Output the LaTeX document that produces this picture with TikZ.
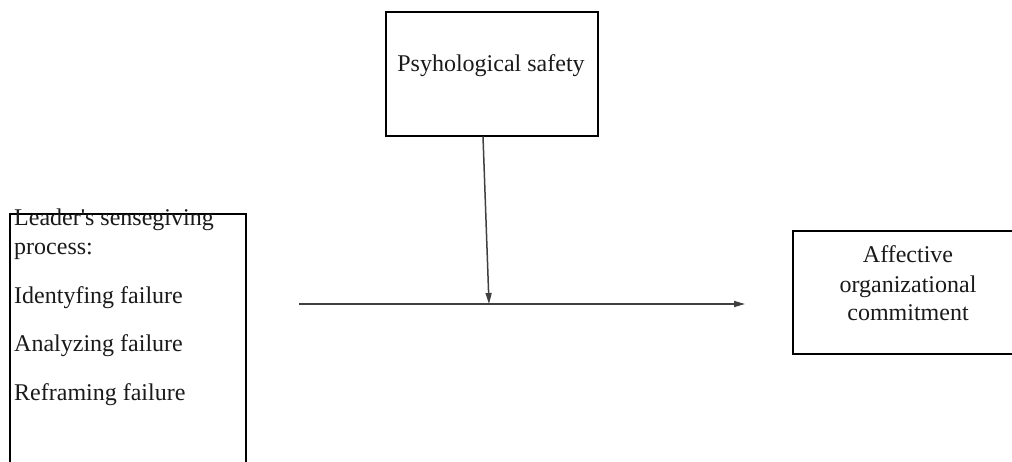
\documentclass[tikz,border=0pt]{standalone}
\usepackage{fontspec}
\setmainfont{Liberation Serif}
\usetikzlibrary{arrows.meta}
\definecolor{txt}{HTML}{1A1A1A}
\definecolor{linec}{HTML}{404040}
\tikzset{
  boxnode/.style={draw=black, line width=2pt, inner sep=0pt, outer sep=0pt, anchor=north west},
  lbl/.style={font=\fontsize{24}{29}\selectfont, text=txt, inner sep=0pt},
  arr/.style={draw=linec, line width=1.5pt, -{Triangle[length=11pt,width=6pt]}}
}
\begin{document}
\begin{tikzpicture}[x=1pt,y=-1pt]
\useasboundingbox (0,0) rectangle (1012,462);
\clip (0,0) rectangle (1012,462);
\fill[white] (0,0) rectangle (1012,462);

% boxes
\node[boxnode, minimum width=236pt, minimum height=280pt] (lead) at (10,214) {};
\node[boxnode, minimum width=212pt, minimum height=124pt] (psy) at (386,12.5) {};
\node[boxnode, minimum width=240pt, minimum height=123pt] (aff) at (793,231) {};

% texts
\node[lbl, anchor=base] (psyt) at (491,72) {Psyhological safety};
\node[lbl, anchor=base west] (l1) at (14,226) {Leader\textquotesingle s sensegiving};
\node[lbl, anchor=base west] (l2) at (14,255) {process:};
\node[lbl, anchor=base west] (l3) at (14,304) {Identyfing failure};
\node[lbl, anchor=base west] (l4) at (14,352) {Analyzing failure};
\node[lbl, anchor=base west] (l5) at (14,400) {Reframing failure};
\node[lbl, anchor=base] (a1) at (908,263) {Affective};
\node[lbl, anchor=base] (a2) at (908,292.5) {organizational};
\node[lbl, anchor=base] (a3) at (908,321) {commitment};

% connectors
\coordinate (vstart) at (483,137);
\coordinate (join) at (489,304);
\coordinate (hstart) at (299,304);
\coordinate (hend) at (745,304);
\draw[arr] (psy.south -| vstart) -- (join);
\draw[arr] (hstart) -- (hend);
\end{tikzpicture}
\end{document}
